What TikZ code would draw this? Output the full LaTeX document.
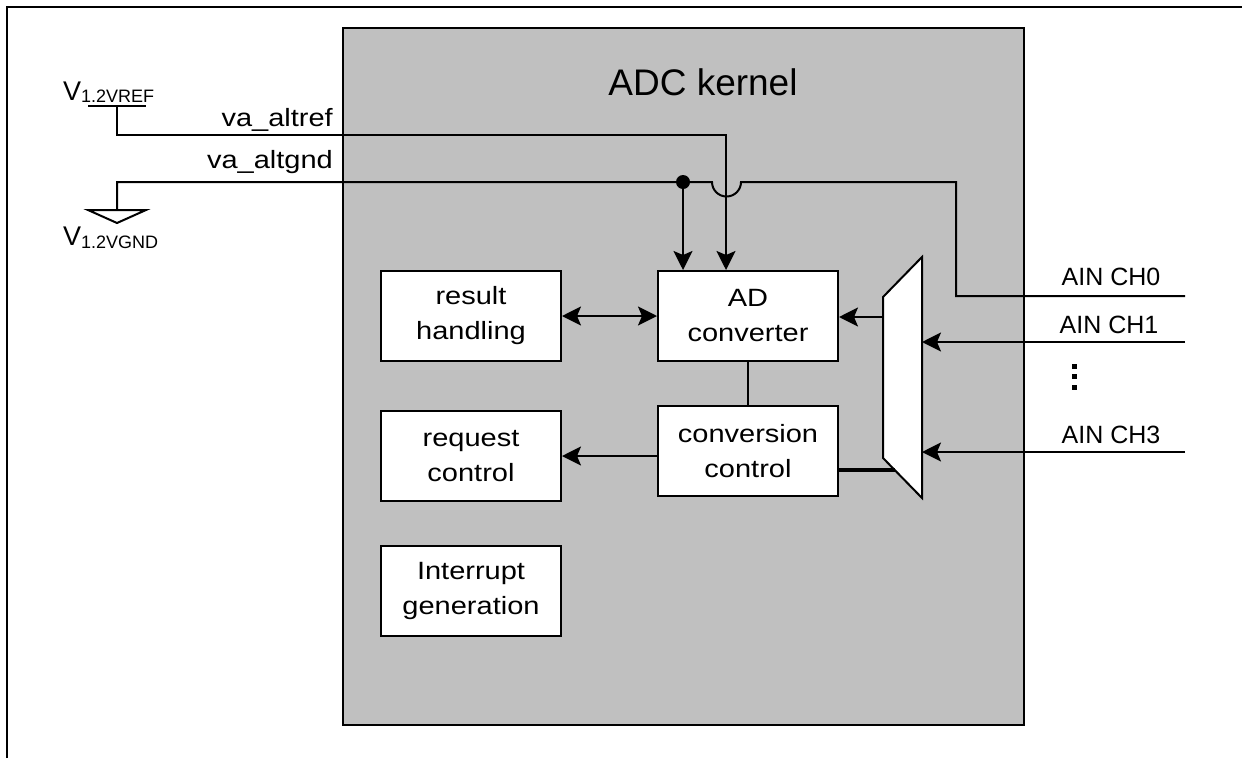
\documentclass[tikz,border=0pt]{standalone}
\usepackage{fontspec}
\setmainfont{Liberation Sans}
\newfontfamily\widefont[FakeStretch=1.16]{Liberation Sans}
\usetikzlibrary{arrows.meta}
\definecolor{kgray}{HTML}{C0C0C0}
\tikzset{
  wire/.style={line width=2pt},
  tipshape/.style={},
  arr/.style={wire,-{Stealth[length=19pt,width=19pt,inset=4pt]}},
  darr/.style={wire,{Stealth[length=19pt,width=19pt,inset=4pt]}-{Stealth[length=19pt,width=19pt,inset=4pt]}},
  blk/.style={draw,line width=2pt,fill=white,minimum width=180pt,minimum height=90pt,inner sep=0pt,align=center,font=\widefont\fontsize{25}{35}\selectfont},
  lbl/.style={inner sep=0pt,font=\fontsize{25}{30}\selectfont},
  wlbl/.style={inner sep=0pt,font=\widefont\fontsize{25}{30}\selectfont},
}
\begin{document}
\begin{tikzpicture}[x=1pt,y=-1pt]
\useasboundingbox (0,0) rectangle (1242,758);
% outer frame (top and left visible)
\draw[wire] (7,758) -- (7,7) -- (1242,7);
% kernel
\draw[wire,fill=kgray] (343,28) rectangle (1024,725);
\node[inner sep=0pt,anchor=base,font=\fontsize{37}{40}\selectfont] (title) at (703,95) {ADC kernel};
% blocks
\node[blk] (res) at (471,316) {result\\handling};
\node[blk] (req) at (471,456) {request\\control};
\node[blk] (irq) at (471,591) {Interrupt\\generation};
\node[blk] (adc) at (748,316) {AD\\converter};
\node[blk] (conv) at (748,451) {conversion\\control};
% mux
\coordinate (m1) at (883,297);
\coordinate (m2) at (922,257);
\coordinate (m3) at (922,498);
\coordinate (m4) at (883,458);
\draw[wire,fill=white] (m1) -- (m2) -- (m3) -- (m4) -- cycle;
% connections inside
\draw[darr] (res.east) -- (adc.west);
\draw[wire] (adc.south) -- (conv.north);
\draw[arr] (req.east -| conv.west) -- (req.east);
\coordinate (muxo) at (883,317);
\draw[arr] (muxo) -- (muxo -| adc.east);
\coordinate (muxc) at (895,470);
\draw[line width=4pt] (muxc -| conv.east) -- (muxc);
% inputs
\coordinate (ch0) at (1185,296);
\coordinate (ch1) at (1185,342);
\coordinate (ch3) at (1185,452);
\draw[arr] (ch1) -- (ch1 -| m2);
\draw[arr] (ch3) -- (ch3 -| m2);
\node[lbl,anchor=base] (l0) at (1111,285) {AIN CH0};
\node[lbl,anchor=base] (l1) at (1109,333) {AIN CH1};
\node[lbl,anchor=base] (l3) at (1111,443) {AIN CH3};
\foreach \yy in {366,376.5,387} \fill (1071.5,\yy-2.5) rectangle (1076.5,\yy+2.5);
% reference
\coordinate (vref) at (117,106);
\draw[wire] (88,106) -- (146,106);
\draw[wire] (vref) -- (117,135) -- (726,135) -- (726,200);
\draw[arr] (726,200) -- (726 ,0 |- adc.north);
% ground
\coordinate (vgnd) at (117,210);
\draw[wire] (88,210) -- (146,210) -- (117,223) -- cycle;
\coordinate (dot) at (683,182);
\draw[wire] (vgnd) -- (117,182) -- (712,182) arc[start angle=180,end angle=0,radius=14.5] -- (956,182) -- (956,296) -- (ch0);
\fill (dot) circle (7);
\draw[arr] (dot) -- (dot |- adc.north);
% labels
\node[inner sep=0pt,anchor=base west,font=\fontsize{27}{30}\selectfont] (vrefl) at (63,100) {V\raisebox{-2.5pt}{\fontsize{18}{20}\selectfont 1.2VREF}};
\node[inner sep=0pt,anchor=base west,font=\fontsize{27}{30}\selectfont] (vgndl) at (63,245) {V\raisebox{-3pt}{\fontsize{18}{20}\selectfont 1.2VGND}};
\node[wlbl,anchor=base east] (altref) at (333,126) {va\_altref};
\node[wlbl,anchor=base east] (altgnd) at (333,168) {va\_altgnd};
\end{tikzpicture}
\end{document}
